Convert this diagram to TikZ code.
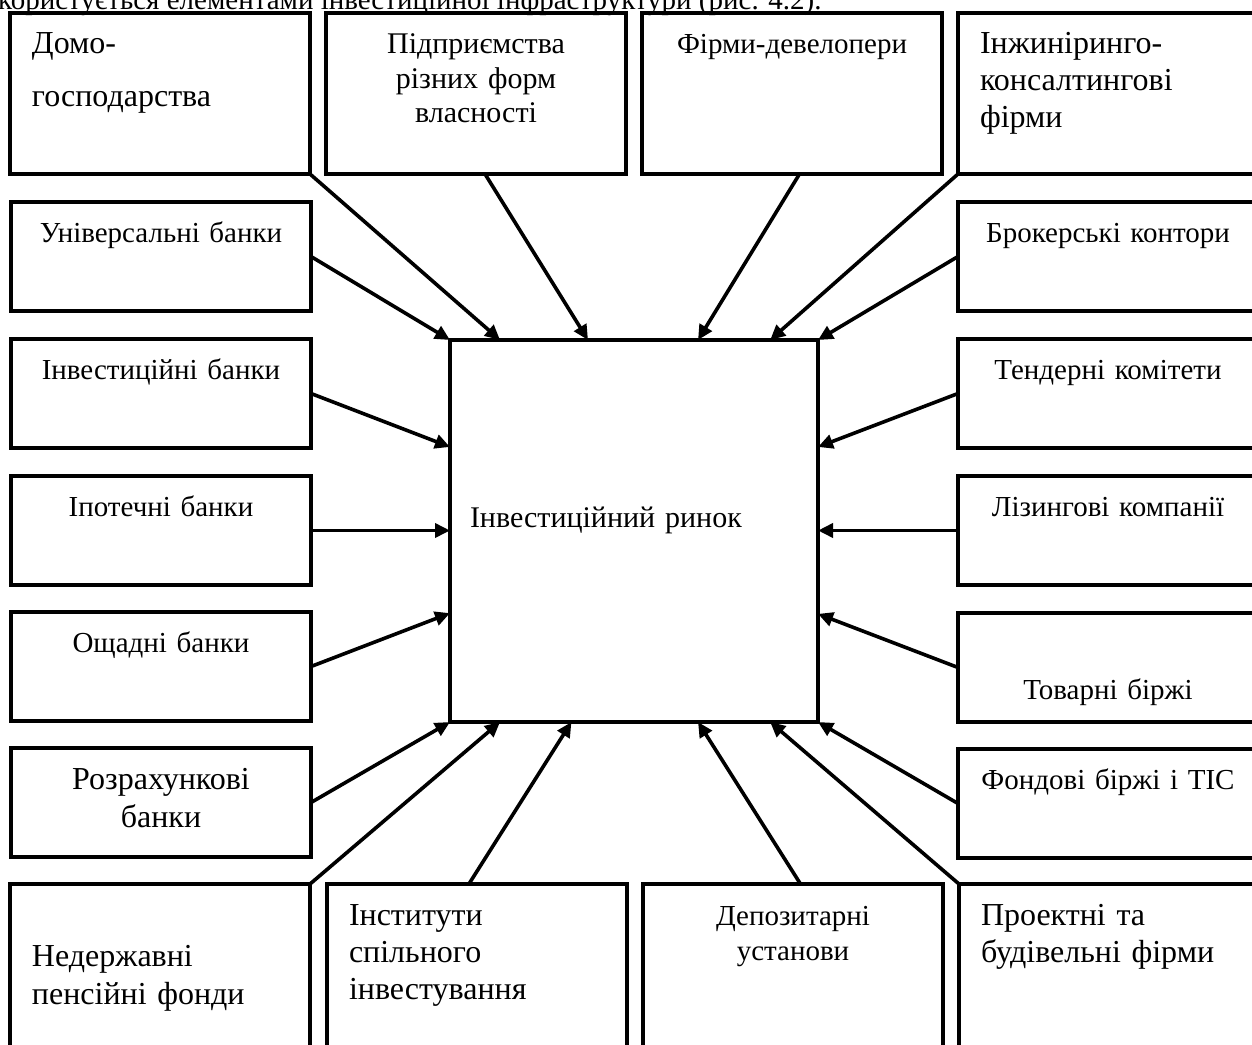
\documentclass[tikz,border=0pt]{standalone}
\usepackage{fontspec}
\setmainfont{Liberation Serif}
\usetikzlibrary{positioning,arrows.meta,calc}

\begin{document}
\begin{tikzpicture}[x=0.5pt, y=-0.5pt, >={Triangle[length=7.5pt,width=7pt]}]
  \tikzset{
    org/.style={draw, line width=1.8pt, inner xsep=11pt, inner ysep=0pt, outer sep=0pt,
      text width=128pt, align=center, text height=20pt, text depth=34.5pt,
      font=\fontsize{14.5}{17.5}\selectfont},
    tall/.style={text depth=60.5pt},
    big/.style={font=\fontsize{16}{#1}\selectfont},
    market/.style={draw, line width=1.6pt, inner xsep=10pt, inner ysep=0pt, outer sep=0pt,
      text width=164pt, align=left, text height=93.5pt, text depth=97.5pt,
      font=\fontsize{15}{18}\selectfont},
    arrow/.style={->, line width=1.8pt}
  }
  \useasboundingbox (0,0) rectangle (1252,1044);
  \clip (0,0) rectangle (1252,1044);

  \node[anchor=base east, inner sep=0pt, font=\fontsize{14.5}{17}\selectfont] (caption) at (822,10)
    {користується елементами інвестиційної інфраструктури (рис. 4.2).};

  % top row
  \node[org, tall, big=27, align=left, anchor=north west] (dg) at (10,13) {Домо-\\господарства};
  \node[org, tall, font=\fontsize{15}{17.5}\selectfont, right=8pt of dg] (pr) {Підприємства\\різних форм\\власності};
  \node[org, tall, right=8pt of pr] (fd) {Фірми-девелопери};
  \node[org, tall, big=18.5, align=left, right=8pt of fd] (ik) {Інжиніринго-\\консалтингові\\фірми};

  % left column
  \node[org, anchor=north west] (ub) at (11,202) {Універсальні банки};
  \node[org, below=14pt of ub] (ib) {Інвестиційні банки};
  \node[org, below=14pt of ib] (ip) {Іпотечні банки};
  \node[org, below=13.5pt of ip] (ob) {Ощадні банки};
  \node[org, big=19, text height=20.5pt, text depth=34pt, below=13.5pt of ob] (rb) {Розрахункові\\банки};

  % right column
  \node[org, anchor=north west] (bk) at (958,202) {Брокерські контори};
  \node[org, below=14pt of bk] (tk) {Тендерні комітети};
  \node[org, below=14pt of tk] (lk) {Лізингові компанії};
  \node[org, text height=43pt, text depth=11.5pt, below=14pt of lk] (tb) {Товарні біржі};
  \node[org, below=13.5pt of tb] (fb) {Фондові біржі і ТІС};

  % bottom row
  \node[org, big=19, align=left, text height=41pt, text depth=69pt, anchor=north west] (nd) at (10,884) {Недержавні\\пенсійні фонди};
  \node[org, big=18.5, align=left, text height=20.5pt, text depth=89.5pt, right=8.5pt of nd.north east, anchor=north west] (is) {Інститути\\спільного\\інвестування};
  \node[org, text height=20.5pt, text depth=89.5pt, right=8pt of is.north east, anchor=north west] (dp) {Депозитарні\\установи};
  \node[org, big=18.5, align=left, text height=20.5pt, text depth=89.5pt, right=8pt of dp.north east, anchor=north west] (pf) {Проектні та\\будівельні фірми};

  \node[market, anchor=north west] (rynok) at (450,340) {Інвестиційний ринок};

  % arrows into the market
  \draw[arrow] (dg.south east) -- ($(rynok.north west)!0.136!(rynok.north east)$);
  \draw[arrow] ($(pr.south west)!0.53!(pr.south east)$) -- ($(rynok.north west)!0.375!(rynok.north east)$);
  \draw[arrow] ($(fd.south west)!0.525!(fd.south east)$) -- ($(rynok.north west)!0.674!(rynok.north east)$);
  \draw[arrow] (ik.south west) -- ($(rynok.north west)!0.87!(rynok.north east)$);

  \draw[arrow] (ub.east) -- (rynok.north west);
  \draw[arrow] (ib.east) -- ($(rynok.north west)!0.28!(rynok.south west)$);
  \draw[arrow] (ip.east) -- (ip.east -| rynok.west);
  \draw[arrow] (ob.east) -- ($(rynok.north west)!0.715!(rynok.south west)$);
  \draw[arrow] (rb.east) -- (rynok.south west);

  \draw[arrow] (bk.west) -- (rynok.north east);
  \draw[arrow] (tk.west) -- ($(rynok.north east)!0.28!(rynok.south east)$);
  \draw[arrow] (lk.west) -- (lk.west -| rynok.east);
  \draw[arrow] (tb.west) -- ($(rynok.north east)!0.717!(rynok.south east)$);
  \draw[arrow] (fb.west) -- (rynok.south east);

  \draw[arrow] (nd.north east) -- ($(rynok.south west)!0.136!(rynok.south east)$);
  \draw[arrow] ($(is.north west)!0.473!(is.north east)$) -- ($(rynok.south west)!0.33!(rynok.south east)$);
  \draw[arrow] ($(dp.north west)!0.525!(dp.north east)$) -- ($(rynok.south west)!0.674!(rynok.south east)$);
  \draw[arrow] (pf.north west) -- ($(rynok.south west)!0.87!(rynok.south east)$);
\end{tikzpicture}
\end{document}
